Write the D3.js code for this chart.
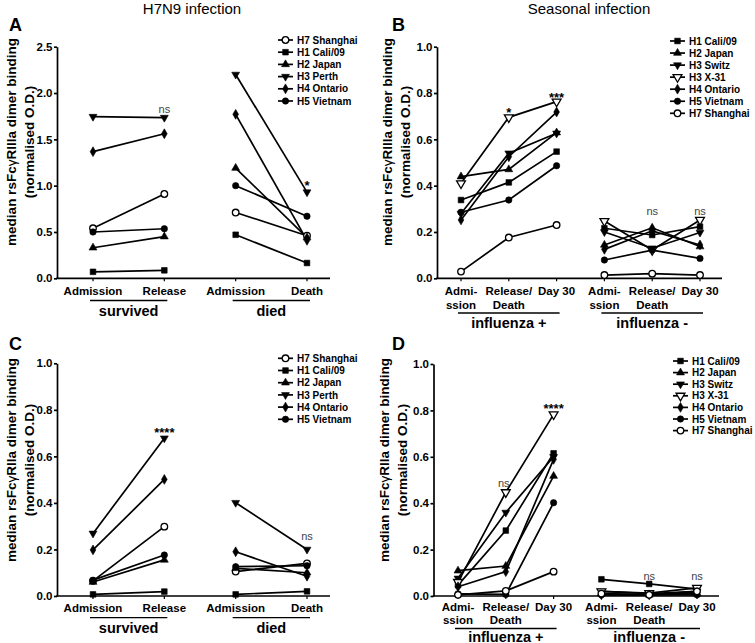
<!DOCTYPE html>
<html><head><meta charset="utf-8">
<script src="https://cdn.jsdelivr.net/npm/d3@7"></script>
<style>
body{margin:0;background:#fff}
svg{display:block}
text{font-family:"Liberation Sans",Arial,Helvetica,sans-serif}
</style>
</head><body>
<svg id="chart" width="755" height="643"></svg>
<script>
// ---------------- DATA ----------------
const h7n9Strains = ["H7 Shanghai","H1 Cali/09","H2 Japan","H3 Perth","H4 Ontario","H5 Vietnam"];
const seasonalStrains = ["H1 Cali/09","H2 Japan","H3 Switz","H3 X-31","H4 Ontario","H5 Vietnam","H7 Shanghai"];

const h7n9Timepoints = [["Admission"],["Release"],["Admission"],["Death"]];
const h7n9Groups = ["survived","died"];
const seasonalTimepoints = [["Admi-","ssion"],["Release/","Death"],["Day 30"],["Admi-","ssion"],["Release/","Death"],["Day 30"]];
const seasonalGroups = ["influenza +","influenza -"];

const ticksA = [0,0.5,1.0,1.5,2.0,2.5];
const ticksBCD = [0,0.2,0.4,0.6,0.8,1.0];

// Panel A: RIIIa, H7N9 (survived Adm, Release | died Adm, Death), order = h7n9Strains
const valuesA = [
  [0.54, 0.91, 0.71, 0.46],
  [0.07, 0.086, 0.47, 0.165],
  [0.33, 0.45, 1.19, 0.44],
  [1.745, 1.735, 2.20, 0.93],
  [1.367, 1.56, 1.77, 0.41],
  [0.50, 0.535, 1.00, 0.67]
];
// Panel B: RIIIa, seasonal (infl+ Adm, Rel, D30 | infl- Adm, Rel, D30), order = seasonalStrains
const valuesB = [
  [0.338, 0.414, 0.547, 0.216, 0.187, 0.223],
  [0.439, 0.470, 0.629, 0.144, 0.218, 0.137],
  [0.280, 0.540, 0.626, 0.200, 0.130, 0.198],
  [0.410, 0.695, 0.763, 0.247, 0.122, 0.252],
  [0.252, 0.525, 0.718, 0.125, 0.205, 0.144],
  [0.285, 0.338, 0.486, 0.079, 0.122, 0.086],
  [0.029, 0.176, 0.230, 0.014, 0.020, 0.014]
];
// Panel C: RIIa, H7N9
const valuesC = [
  [0.065, 0.298, 0.105, 0.140],
  [0.007, 0.019, 0.007, 0.020],
  [0.060, 0.155, 0.119, 0.100],
  [0.269, 0.678, 0.401, 0.200],
  [0.198, 0.501, 0.190, 0.085],
  [0.068, 0.176, 0.126, 0.130]
];
// Panel D: RIIa, seasonal
const valuesD = [
  [0.047, 0.282, 0.615, 0.072, 0.052, 0.030],
  [0.109, 0.129, 0.517, 0.010, 0.005, 0.010],
  [0.076, 0.360, 0.600, 0.020, 0.010, 0.020],
  [0.060, 0.447, 0.783, 0.020, 0.012, 0.035],
  [0.040, 0.105, 0.589, 0.005, 0.005, 0.015],
  [0.009, 0.007, 0.402, 0.005, 0.005, 0.005],
  [0.005, 0.022, 0.105, 0.010, 0.005, 0.020]
];

// significance annotations: [category index, label]
const sigA = [[1,"ns"],[3,"*"]];
const sigB = [[1,"*"],[2,"***"],[4,"ns"],[5,"ns"]];
const sigC = [[1,"****"],[3,"ns"]];
const sigD = [[1,"ns"],[2,"****"],[4,"ns"],[5,"ns"]];

// ---------------- STYLE ----------------
const markerStyle = {
  "H7 Shanghai": {type: d3.symbolCircle, fill: "#fff", rot: 0, size: 34},
  "H1 Cali/09":  {type: d3.symbolSquare, fill: "#000", rot: 0, size: 32},
  "H2 Japan":    {type: d3.symbolTriangle, fill: "#000", rot: 0, size: 27},
  "H3 Perth":    {type: d3.symbolTriangle, fill: "#000", rot: 180, size: 27},
  "H3 Switz":    {type: d3.symbolTriangle, fill: "#000", rot: 180, size: 27},
  "H3 X-31":     {type: d3.symbolTriangle, fill: "#fff", rot: 180, size: 34},
  "H4 Ontario":  {type: d3.symbolDiamond, fill: "#000", rot: 0, size: 28},
  "H5 Vietnam":  {type: d3.symbolCircle, fill: "#000", rot: 0, size: 32}
};

const svg = d3.select("#chart");
const FONT = '"Liberation Sans",Arial,Helvetica,sans-serif';

function drawMarker(g, name, cx, cy) {
  const m = markerStyle[name];
  g.append("path")
    .attr("d", d3.symbol().type(m.type).size(m.size)())
    .attr("transform", `translate(${cx},${cy}) rotate(${m.rot})`)
    .attr("fill", m.fill)
    .attr("stroke", "#000")
    .attr("stroke-width", m.fill === "#fff" ? 1.3 : 0.6);
}

function panel(cfg) {
  const g = svg.append("g");
  const cats = cfg.labels.map((d, i) => "c" + i);
  const y = d3.scaleLinear().domain([0, cfg.yMax]).range([cfg.bottom, cfg.top]);
  const x = d3.scalePoint().domain(cats).range([cfg.x0, cfg.x1]);

  // y axis
  const ya = g.append("g").attr("transform", `translate(${cfg.left},0)`)
    .call(d3.axisLeft(y).tickValues(cfg.ticks).tickFormat(d3.format(".1f"))
      .tickSize(3).tickSizeOuter(0).tickPadding(1.5));
  ya.attr("font-family", FONT).attr("font-size", 11.5).attr("font-weight", "bold");
  ya.selectAll("path,line").attr("stroke", "#000").attr("stroke-width", 1.7);
  ya.selectAll("text").attr("fill", "#000");

  // x axis line + ticks
  g.append("line").attr("x1", cfg.left - 0.8).attr("x2", cfg.right)
    .attr("y1", cfg.bottom).attr("y2", cfg.bottom)
    .attr("stroke", "#000").attr("stroke-width", 1.7);
  cats.forEach(c => {
    g.append("line").attr("x1", x(c)).attr("x2", x(c))
      .attr("y1", cfg.bottom).attr("y2", cfg.bottom + 3)
      .attr("stroke", "#000").attr("stroke-width", 1.2);
  });

  // x labels
  cfg.labels.forEach((lines, i) => {
    lines.forEach((t, j) => {
      g.append("text").attr("x", x(cats[i])).attr("y", cfg.labelY + j * cfg.labelLH)
        .attr("text-anchor", "middle").attr("font-size", 11.5).attr("font-weight", "bold")
        .text(t);
    });
  });

  // groups
  const per = cats.length / cfg.groups.length;
  cfg.groups.forEach((name, gi) => {
    const a = x(cats[gi * per]), b = x(cats[gi * per + per - 1]);
    g.append("line").attr("x1", a - 3).attr("x2", b + 3)
      .attr("y1", cfg.groupLineY).attr("y2", cfg.groupLineY)
      .attr("stroke", "#000").attr("stroke-width", 1.3);
    g.append("text").attr("x", (a + b) / 2).attr("y", cfg.groupTextY)
      .attr("text-anchor", "middle").attr("font-size", 14.5).attr("font-weight", "bold")
      .text(name);
  });

  // series lines
  const line = d3.line().x(d => x(d.c)).y(d => y(d.v));
  cfg.strains.forEach((s, si) => {
    cfg.groups.forEach((_, gi) => {
      const pts = [];
      for (let k = 0; k < per; k++) {
        const idx = gi * per + k;
        pts.push({c: cats[idx], v: cfg.values[si][idx]});
      }
      g.append("path").attr("d", line(pts)).attr("fill", "none")
        .attr("stroke", "#000").attr("stroke-width", 1.7);
    });
  });
  // markers
  cfg.strains.forEach((s, si) => {
    cfg.values[si].forEach((v, idx) => drawMarker(g, s, x(cats[idx]), y(v)));
  });

  // significance
  cfg.sig.forEach(([idx, lab], k) => {
    const mx = d3.max(cfg.values, r => r[idx]);
    const isNs = lab === "ns";
    g.append("text").attr("x", x(cats[idx]) + (cfg.sigDx ? cfg.sigDx[k] : 0))
      .attr("y", y(mx) - cfg.sigOff[k])
      .attr("text-anchor", "middle")
      .attr("font-size", isNs ? 11 : 13)
      .attr("font-weight", isNs ? "normal" : "bold")
      .attr("fill", isNs ? "#444" : "#000")
      .text(lab);
  });

  // legend
  cfg.strains.forEach((s, i) => {
    const ly = cfg.legY + i * cfg.legDy;
    g.append("line").attr("x1", cfg.legX).attr("x2", cfg.legX + 15)
      .attr("y1", ly).attr("y2", ly).attr("stroke", "#000").attr("stroke-width", 1.7);
    drawMarker(g, s, cfg.legX + 7.5, ly);
    g.append("text").attr("x", cfg.legX + 19).attr("y", ly + 3.6)
      .attr("font-size", 10).attr("font-weight", "bold").text(s);
  });

  // y label
  const yl = g.append("text")
    .attr("transform", `translate(${cfg.ylabX1},${cfg.ylabY}) rotate(-90)`)
    .attr("text-anchor", "middle").attr("dominant-baseline", "central")
    .attr("font-size", 13.5).attr("font-weight", "bold");
  yl.append("tspan").text("median rsFc");
  yl.append("tspan").attr("font-weight", "normal").text("γ");
  yl.append("tspan").text(cfg.receptor + " dimer binding");
  g.append("text")
    .attr("transform", `translate(${cfg.ylabX2},${cfg.ylabY}) rotate(-90)`)
    .attr("text-anchor", "middle").attr("dominant-baseline", "central")
    .attr("font-size", 13.5).attr("font-weight", "bold")
    .text("(normalised O.D.)");

  // panel letter
  g.append("text").attr("x", cfg.letterX).attr("y", cfg.letterY)
    .attr("font-size", 18).attr("font-weight", "bold").text(cfg.letter);
}

// titles
svg.append("text").attr("x", 192).attr("y", 14).attr("text-anchor", "middle")
  .attr("font-size", 15).text("H7N9 infection");
svg.append("text").attr("x", 589).attr("y", 14).attr("text-anchor", "middle")
  .attr("font-size", 15).text("Seasonal infection");

panel({letter: "A", letterX: 9, letterY: 31, receptor: "RIIIa",
  strains: h7n9Strains, values: valuesA, labels: h7n9Timepoints, groups: h7n9Groups,
  yMax: 2.5, ticks: ticksA, left: 57, right: 330, top: 46.7, bottom: 278.3, x0: 93, x1: 307,
  labelY: 294.5, labelLH: 14, groupLineY: 300.5, groupTextY: 315.5,
  legX: 278, legY: 40, legDy: 12.2,
  ylabX1: 11, ylabX2: 29, ylabY: 142,
  sig: sigA, sigOff: [4.5, 2]});

panel({letter: "B", letterX: 392, letterY: 31, receptor: "RIIIa",
  strains: seasonalStrains, values: valuesB, labels: seasonalTimepoints, groups: seasonalGroups,
  yMax: 1.0, ticks: ticksBCD, left: 437, right: 722, top: 46.7, bottom: 278.3, x0: 461, x1: 700,
  labelY: 294.5, labelLH: 14, groupLineY: 313, groupTextY: 327.5,
  legX: 670, legY: 41, legDy: 12.05,
  ylabX1: 387, ylabX2: 405, ylabY: 142,
  sig: sigB, sigOff: [0, 0, 13, 5]});

panel({letter: "C", letterX: 9, letterY: 350, receptor: "RIIa",
  strains: h7n9Strains, values: valuesC, labels: h7n9Timepoints, groups: h7n9Groups,
  yMax: 1.0, ticks: ticksBCD, left: 57, right: 330, top: 363.3, bottom: 596, x0: 93, x1: 307,
  labelY: 611.5, labelLH: 14, groupLineY: 617.7, groupTextY: 633,
  legX: 278, legY: 358.3, legDy: 12.2,
  ylabX1: 11, ylabX2: 29, ylabY: 460,
  sig: sigC, sigOff: [1, 9.5]});

panel({letter: "D", letterX: 392, letterY: 350, receptor: "RIIa",
  strains: seasonalStrains, values: valuesD, labels: seasonalTimepoints, groups: seasonalGroups,
  yMax: 1.0, ticks: ticksBCD, left: 433.5, right: 719, top: 364, bottom: 596, x0: 458, x1: 697,
  labelY: 610.5, labelLH: 13.5, groupLineY: 628.5, groupTextY: 641.5,
  legX: 673, legY: 361, legDy: 11.6,
  ylabX1: 384, ylabX2: 402, ylabY: 460,
  sig: sigD, sigOff: [5, 1, 4, 8], sigDx: [-2, 0, 0, 0]});
</script>
</body></html>
